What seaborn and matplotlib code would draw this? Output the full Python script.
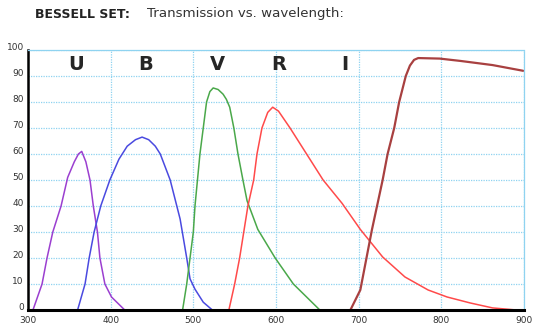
import matplotlib
matplotlib.use("Agg")
import matplotlib.pyplot as plt
import matplotlib.transforms as mtransforms
import seaborn as sns
import pandas as pd

# Bessell filter curves (wavelength nm, transmission %)
u_wl = [306, 317, 323, 330, 340, 348, 356, 361, 365, 370, 375, 379, 384, 387, 393, 401, 417]
u_tr = [0, 10, 20, 30, 40, 51, 57, 60, 61, 57, 50, 40, 30, 20, 10, 5, 0]

b_wl = [360, 369, 374, 380, 388, 399, 410, 420, 430, 438, 446, 454, 460, 472, 484, 492, 496, 502, 512, 523]
b_tr = [0, 10, 20, 30, 40, 50, 58, 63, 65.5, 66.5, 65.5, 63, 60, 50, 35, 20, 12, 8, 3, 0]

v_wl = [487, 492, 496, 500, 502, 505, 508, 512, 516, 520, 524, 530, 536, 540, 544, 549, 554, 560, 565, 578, 599, 621, 653]
v_tr = [0, 10, 20, 30, 40, 50, 60, 70, 80, 84, 85.4, 84.8, 83, 81, 78, 70, 60, 50, 42, 31, 20, 10, 0]

r_wl = [543, 550, 556, 561, 566, 573, 577, 583, 590, 596, 603, 617, 637, 657, 680, 702, 729, 756, 784, 807, 835, 862, 891]
r_tr = [0, 10, 20, 30, 40, 50, 60, 70, 76, 78, 76.5, 70, 60, 50, 41, 31, 20.4, 12.7, 7.7, 5, 2.7, 0.8, 0]

i_wl = [690, 702, 716, 729, 735, 743, 749, 757, 762, 767, 772, 798, 823, 862, 899]
i_tr = [0, 7.7, 30.8, 50, 60, 70, 80, 90, 94, 96.2, 96.9, 96.7, 95.8, 94.2, 92]

band_names = ["U", "B", "V", "R", "I"]
band_label_wl = [358, 442, 529, 603, 683]
band_colors = ["#9b3fd0", "#4a4ae0", "#4aa84a", "#ff4a4a", "#a84040"]

x_ticks = [300, 400, 500, 600, 700, 800, 900]
y_ticks = [0, 10, 20, 30, 40, 50, 60, 70, 80, 90, 100]

curves = [(u_wl, u_tr), (b_wl, b_tr), (v_wl, v_tr), (r_wl, r_tr), (i_wl, i_tr)]
frames = []
for name, (wl, tr) in zip(band_names, curves):
    frames.append(pd.DataFrame({"wl": wl, "tr": tr, "band": name}))
df = pd.concat(frames, ignore_index=True)

sns.set_style("white")
plt.rcParams["font.family"] = ["DejaVu Sans"]

fig = plt.figure(figsize=(5.34, 3.24), dpi=100)
ax = fig.add_axes([28 / 534, 1 - 310 / 324, 496 / 534, 260 / 324])

sns.lineplot(data=df, x="wl", y="tr", hue="band", palette=band_colors,
             sort=False, estimator=None, legend=False, ax=ax, linewidth=1.1)
# the I curve is drawn a bit heavier
ax.lines[-1].set_linewidth(1.6)

ax.set_xlim(300, 900)
ax.set_ylim(0, 100)
ax.set_xticks(x_ticks)
ax.set_yticks(y_ticks)
ax.set_xticklabels([str(t) for t in x_ticks], fontsize=6.5, color="#333333")
ax.set_yticklabels([str(t) for t in y_ticks], fontsize=6.5, color="#333333")
ax.tick_params(axis="y", length=0, pad=3)
ax.tick_params(axis="x", length=0, pad=4)
# y labels sit a touch above their grid lines
shift = mtransforms.ScaledTranslation(0, 2.5 / 72, fig.dpi_scale_trans)
for lab in ax.get_yticklabels():
    lab.set_transform(lab.get_transform() + shift)
ax.set_xlabel("")
ax.set_ylabel("")
ax.grid(True, color="#8fd3f0", linestyle=(0, (1, 1)), linewidth=0.9)
ax.set_axisbelow(True)

for side in ["top", "right"]:
    ax.spines[side].set_color("#8fd3f0")
    ax.spines[side].set_linestyle((0, (1, 1)))
    ax.spines[side].set_linewidth(0.9)
ax.spines["left"].set_color("black")
ax.spines["left"].set_linewidth(1.8)
ax.spines["bottom"].set_color("black")
ax.spines["bottom"].set_linewidth(2.2)

for name, wl in zip(band_names, band_label_wl):
    ax.text(wl, 94.6, name, fontsize=14, fontweight="bold", ha="center", va="center")

fig.text(35 / 534, 1 - 14 / 324, "BESSELL SET:", fontsize=9, fontweight="bold",
         ha="left", va="center", color="#222222")
fig.text(147 / 534, 1 - 14 / 324, "Transmission vs. wavelength:", fontsize=9.6,
         ha="left", va="center", color="#333333")

fig.savefig("out.png", dpi=100)
